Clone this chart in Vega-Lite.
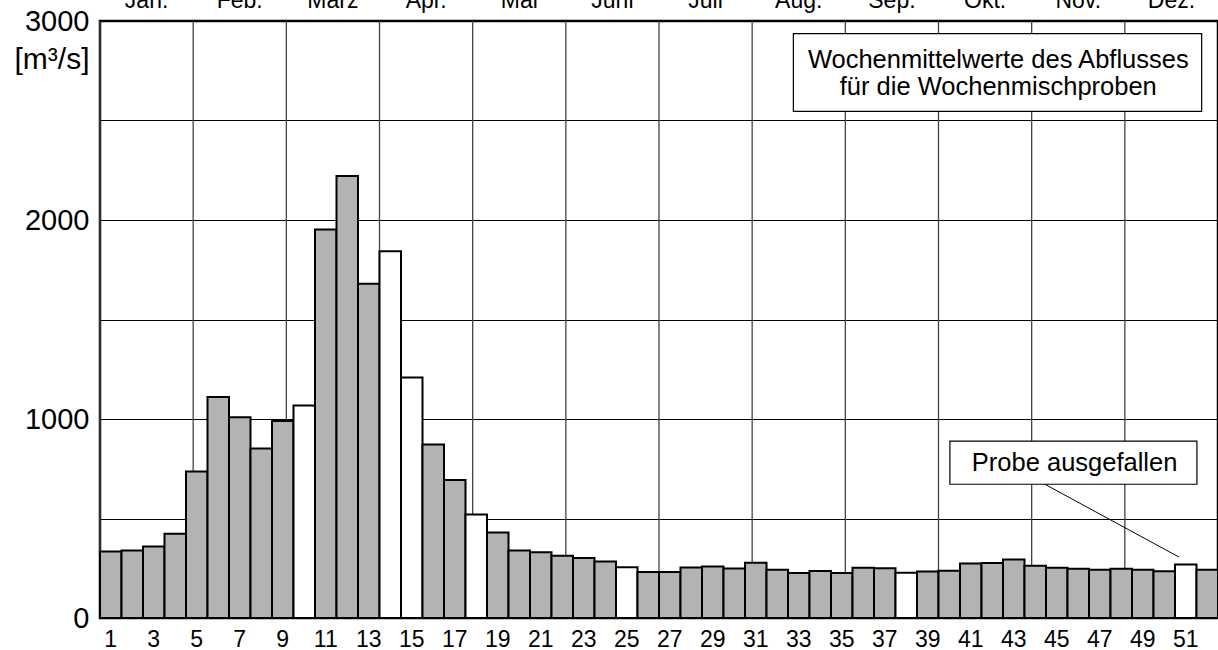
{
  "$schema": "https://vega.github.io/schema/vega-lite/v6.json",
  "autosize": {"type": "none"},
  "width": 1118,
  "height": 597,
  "padding": {"left": 100, "top": 21, "right": 0, "bottom": 32},
  "background": "#ffffff",
  "config": {
    "font": "Liberation Sans",
    "view": {"stroke": "#000000", "strokeWidth": 2.5},
    "axis": {"labelColor": "#000000", "titleColor": "#000000"}
  },
  "datasets": {
    "wochen": [
      {"woche": 1, "abfluss": 334, "probe": "vorhanden"},
      {"woche": 2, "abfluss": 339, "probe": "vorhanden"},
      {"woche": 3, "abfluss": 359, "probe": "vorhanden"},
      {"woche": 4, "abfluss": 423, "probe": "vorhanden"},
      {"woche": 5, "abfluss": 736, "probe": "vorhanden"},
      {"woche": 6, "abfluss": 1111, "probe": "vorhanden"},
      {"woche": 7, "abfluss": 1009, "probe": "vorhanden"},
      {"woche": 8, "abfluss": 852, "probe": "vorhanden"},
      {"woche": 9, "abfluss": 990, "probe": "vorhanden"},
      {"woche": 10, "abfluss": 1068, "probe": "ausgefallen"},
      {"woche": 11, "abfluss": 1952, "probe": "vorhanden"},
      {"woche": 12, "abfluss": 2221, "probe": "vorhanden"},
      {"woche": 13, "abfluss": 1680, "probe": "vorhanden"},
      {"woche": 14, "abfluss": 1843, "probe": "ausgefallen"},
      {"woche": 15, "abfluss": 1209, "probe": "ausgefallen"},
      {"woche": 16, "abfluss": 872, "probe": "vorhanden"},
      {"woche": 17, "abfluss": 694, "probe": "vorhanden"},
      {"woche": 18, "abfluss": 520, "probe": "ausgefallen"},
      {"woche": 19, "abfluss": 430, "probe": "vorhanden"},
      {"woche": 20, "abfluss": 339, "probe": "vorhanden"},
      {"woche": 21, "abfluss": 331, "probe": "vorhanden"},
      {"woche": 22, "abfluss": 313, "probe": "vorhanden"},
      {"woche": 23, "abfluss": 301, "probe": "vorhanden"},
      {"woche": 24, "abfluss": 284, "probe": "vorhanden"},
      {"woche": 25, "abfluss": 255, "probe": "ausgefallen"},
      {"woche": 26, "abfluss": 231, "probe": "vorhanden"},
      {"woche": 27, "abfluss": 231, "probe": "vorhanden"},
      {"woche": 28, "abfluss": 254, "probe": "vorhanden"},
      {"woche": 29, "abfluss": 259, "probe": "vorhanden"},
      {"woche": 30, "abfluss": 249, "probe": "vorhanden"},
      {"woche": 31, "abfluss": 278, "probe": "vorhanden"},
      {"woche": 32, "abfluss": 242, "probe": "vorhanden"},
      {"woche": 33, "abfluss": 226, "probe": "vorhanden"},
      {"woche": 34, "abfluss": 236, "probe": "vorhanden"},
      {"woche": 35, "abfluss": 226, "probe": "vorhanden"},
      {"woche": 36, "abfluss": 253, "probe": "vorhanden"},
      {"woche": 37, "abfluss": 250, "probe": "vorhanden"},
      {"woche": 38, "abfluss": 227, "probe": "ausgefallen"},
      {"woche": 39, "abfluss": 234, "probe": "vorhanden"},
      {"woche": 40, "abfluss": 237, "probe": "vorhanden"},
      {"woche": 41, "abfluss": 274, "probe": "vorhanden"},
      {"woche": 42, "abfluss": 277, "probe": "vorhanden"},
      {"woche": 43, "abfluss": 294, "probe": "vorhanden"},
      {"woche": 44, "abfluss": 262, "probe": "vorhanden"},
      {"woche": 45, "abfluss": 252, "probe": "vorhanden"},
      {"woche": 46, "abfluss": 248, "probe": "vorhanden"},
      {"woche": 47, "abfluss": 242, "probe": "vorhanden"},
      {"woche": 48, "abfluss": 248, "probe": "vorhanden"},
      {"woche": 49, "abfluss": 243, "probe": "vorhanden"},
      {"woche": 50, "abfluss": 235, "probe": "vorhanden"},
      {"woche": 51, "abfluss": 269, "probe": "ausgefallen"},
      {"woche": 52, "abfluss": 242, "probe": "vorhanden"}
    ],
    "monate": [
      {"monat": "Jan."}, {"monat": "Feb."}, {"monat": "März"}, {"monat": "Apr."},
      {"monat": "Mai"}, {"monat": "Juni"}, {"monat": "Juli"}, {"monat": "Aug."},
      {"monat": "Sep."}, {"monat": "Okt."}, {"monat": "Nov."}, {"monat": "Dez."}
    ],
    "kaesten": [
      {"x1": 32.75, "x2": 51.74, "y1": 2546, "y2": 2937},
      {"x1": 40.03, "x2": 51.52, "y1": 672, "y2": 889}
    ],
    "texte": [
      {"x": 42.28, "y": 2766, "text": "Wochenmittelwerte des Abflusses"},
      {"x": 42.28, "y": 2630, "text": "für die Wochenmischproben"},
      {"x": 45.83, "y": 739, "text": "Probe ausgefallen"}
    ],
    "hinweis": [
      {"x1": 44.45, "y1": 672, "x2": 50.69, "y2": 306}
    ]
  },
  "layer": [
    {
      "data": {"name": "monate"},
      "mark": {"type": "rule", "stroke": "#444444", "strokeWidth": 1.3},
      "encoding": {
        "x": {
          "field": "monat", "type": "ordinal", "sort": null, "bandPosition": 0,
          "scale": {"type": "band", "paddingInner": 0, "paddingOuter": 0},
          "axis": {"orient": "top", "ticks": false, "tickSize": 0, "domain": false, "grid": false,
                   "labelFontSize": 23, "labelPadding": 14, "labelBaseline": "alphabetic",
                   "labelAngle": 0, "title": null}
        }
      }
    },
    {
      "data": {"name": "wochen"},
      "mark": {"type": "bar", "stroke": "#000000", "strokeWidth": 2},
      "encoding": {
        "x": {
          "field": "woche", "type": "ordinal",
          "scale": {"type": "band", "paddingInner": 0, "paddingOuter": 0},
          "axis": {"orient": "bottom", "values": [1,3,5,7,9,11,13,15,17,19,21,23,25,27,29,31,33,35,37,39,41,43,45,47,49,51],
                   "ticks": false, "tickSize": 0, "domain": false, "grid": false, "labelFontSize": 23,
                   "labelAngle": 0, "labelPadding": 28, "labelBaseline": "alphabetic", "title": null}
        },
        "y": {
          "field": "abfluss", "type": "quantitative",
          "scale": {"domain": [0, 3000], "nice": false},
          "axis": {
            "values": [0, 500, 1000, 1500, 2000, 2500, 3000],
            "format": "d",
            "labelExpr": "datum.value % 1000 === 0 ? datum.label : ''",
            "grid": true, "gridColor": "#000000", "gridWidth": 1, "gridOpacity": 1,
            "ticks": false, "tickSize": 0, "domain": false,
            "labelFontSize": 29, "labelPadding": 11,
            "title": "[m³/s]", "titleAngle": 0, "titleAlign": "right", "titleBaseline": "alphabetic",
            "titleX": -11, "titleY": 47, "titleFontSize": 30, "titleFontWeight": "normal"
          }
        },
        "fill": {
          "field": "probe", "type": "nominal",
          "scale": {"domain": ["vorhanden", "ausgefallen"], "range": ["#b3b3b3", "#ffffff"]},
          "legend": null
        }
      }
    },
    {
      "data": {"name": "kaesten"},
      "mark": {"type": "rect", "fill": "#ffffff", "stroke": "#000000", "strokeWidth": 1.2},
      "encoding": {
        "x": {"field": "x1", "type": "quantitative", "scale": {"domain": [0.5, 52.5], "nice": false, "zero": false}, "axis": null},
        "x2": {"field": "x2"},
        "y": {"field": "y1", "type": "quantitative"},
        "y2": {"field": "y2"}
      }
    },
    {
      "data": {"name": "texte"},
      "mark": {"type": "text", "fontSize": 25.5, "align": "center", "baseline": "alphabetic", "color": "#000000"},
      "encoding": {
        "x": {"field": "x", "type": "quantitative", "scale": {"domain": [0.5, 52.5], "nice": false, "zero": false}, "axis": null},
        "y": {"field": "y", "type": "quantitative"},
        "text": {"field": "text"}
      }
    },
    {
      "data": {"name": "hinweis"},
      "mark": {"type": "rule", "stroke": "#000000", "strokeWidth": 1},
      "encoding": {
        "x": {"field": "x1", "type": "quantitative", "scale": {"domain": [0.5, 52.5], "nice": false, "zero": false}, "axis": null},
        "x2": {"field": "x2"},
        "y": {"field": "y1", "type": "quantitative"},
        "y2": {"field": "y2"}
      }
    }
  ],
  "resolve": {"scale": {"x": "independent"}, "axis": {"x": "independent"}}
}
